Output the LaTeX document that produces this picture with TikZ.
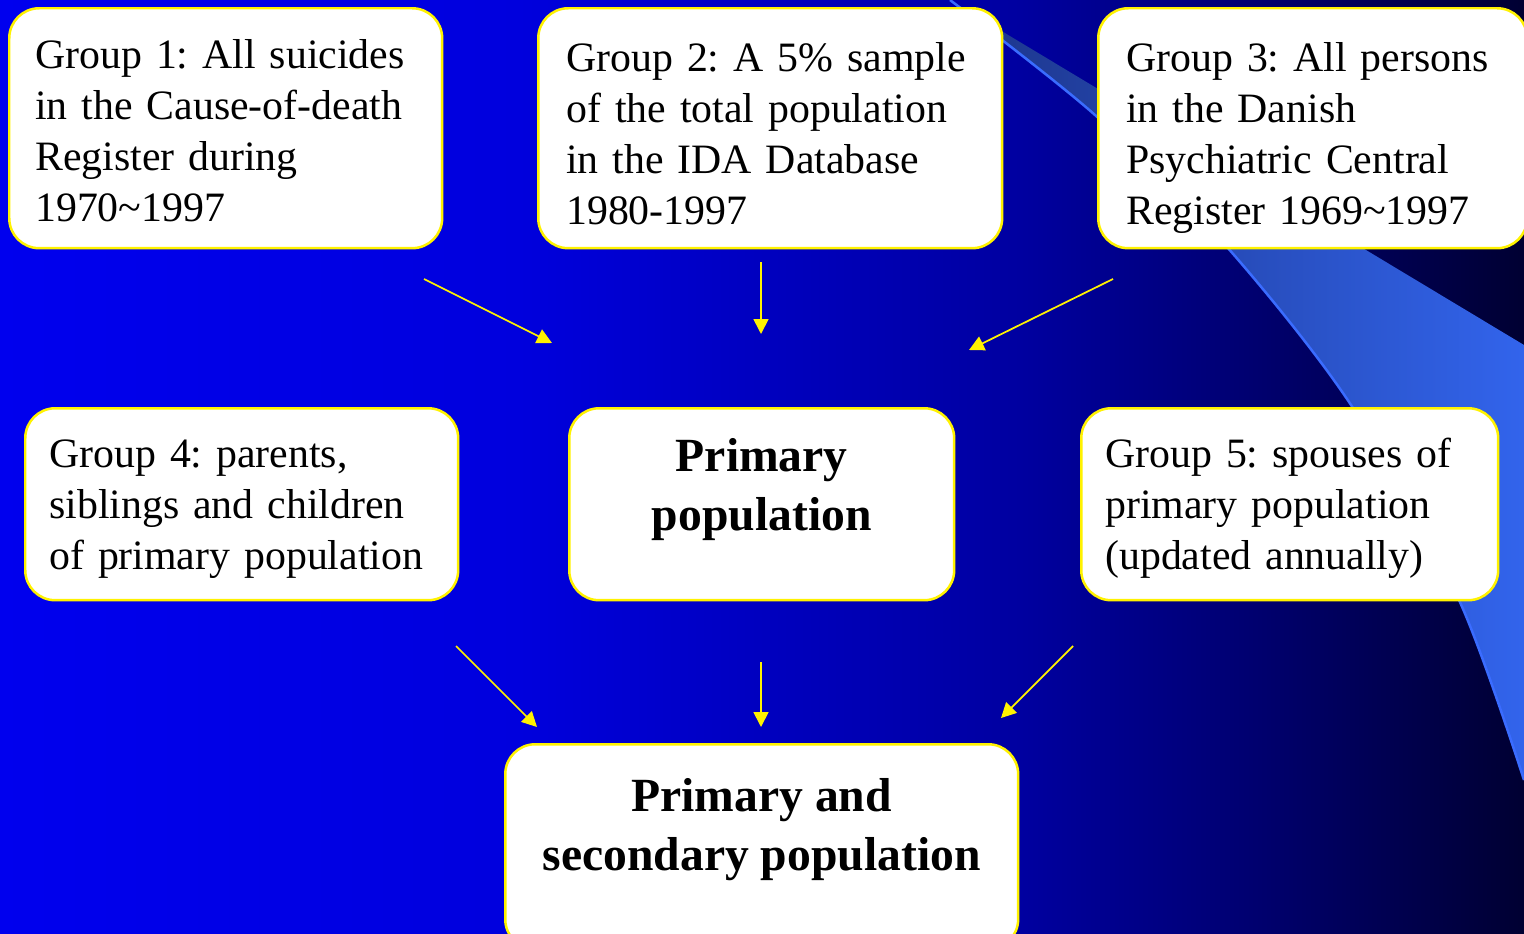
\documentclass[tikz,border=0pt]{standalone}
\usepackage{fontspec}
\setmainfont{Liberation Serif}
\usetikzlibrary{arrows.meta}

\definecolor{swleft}{RGB}{28,52,136}
\definecolor{swright}{RGB}{50,100,236}
\definecolor{swedge}{RGB}{58,108,255}

% slide background, bright blue on the left to near black on the right
\pgfdeclarehorizontalshading{slidebg}{100bp}{rgb(0bp)=(0,0,0.933); rgb(25bp)=(0,0,0.933);
	rgb(42bp)=(0,0,0.867); rgb(58.5bp)=(0,0,0.627); rgb(66bp)=(0,0,0.44);
	rgb(75bp)=(0,0,0.196); rgb(100bp)=(0,0,0.196)}

\begin{document}
\begin{tikzpicture}
	[x = 0.02cm, y = -0.02cm, >= {Triangle[length=0.3cm,width=0.3cm]},
	 group/.style = {draw=yellow, line width=0.05cm, fill=white, rounded corners=0.6cm,
		anchor=north west, align=left, inner ysep=0pt, minimum height=4.8cm,
		text height=1.26cm, text depth=3.54cm,
		font=\fontsize{23.8pt}{29pt}\selectfont,
		execute at begin node={\frenchspacing\hyphenpenalty=10000}},
	 result/.style = {draw=yellow, line width=0.05cm, fill=white, rounded corners=0.6cm,
		anchor=north west, align=center, text depth=0.88cm,
		font=\fontsize{27.1pt}{33.5pt}\selectfont\bfseries},
	 flow/.style = {->, draw=yellow, fill=yellow, line width=0.035cm}]

\useasboundingbox (0,0) rectangle (1524,933);
\clip (0,0) rectangle (1524,933);
\shade[shading=slidebg] (0,0) rectangle (1524,933);
\shade[left color=swleft, right color=swright]
	plot[smooth] coordinates {(950,0) (1095,115) (1227,247) (1351,405) (1459,600) (1524,780)}
	-- (1524,345) -- cycle;
\draw[swedge, line width=0.05cm]
	plot[smooth] coordinates {(950,0) (1095,115) (1227,247) (1351,405) (1459,600) (1524,780)};

% boxes
\node[group, text width=7.62cm, inner xsep=0.52cm, text height=1.2cm, text depth=3.6cm](g_1) at (8,7)
	{Group 1: All suicides\\in the Cause-of-death\\Register during\\1970\textasciitilde1997};
\node[group, text width=8.16cm, inner xsep=0.56cm](g_2) at (537,7)
	{Group 2: A 5\% sample\\of the total population\\in the IDA Database\\1980-1997};
\node[group, text width=7.46cm, inner xsep=0.56cm](g_3) at (1097,7)
	{Group 3: All persons\\in the Danish\\Psychiatric Central\\Register 1969\textasciitilde1997};
\node[group, text width=7.7cm, inner xsep=0.48cm, minimum height=3.84cm,
	text height=1.18cm, text depth=2.66cm](g_4) at (24,407)
	{Group 4: parents,\\siblings and children\\of primary population};
\node[result, minimum width=7.7cm, minimum height=3.84cm, text depth=0.8cm](prim) at (568,407)
	{Primary\\population};
\node[group, text width=7.38cm, inner xsep=0.48cm, minimum height=3.84cm,
	text height=1.18cm, text depth=2.66cm](g_5) at (1080,407)
	{Group 5: spouses of\\primary population\\(updated annually)};
\node[result, minimum width=10.26cm, minimum height=4.1cm](both) at (504,743)
	{Primary and\\secondary population};

% arrows
\coordinate (tail_1) at (424,279);  \coordinate (tip_1) at (552,343);
\coordinate (tail_2) at (761,262);  \coordinate (tip_2) at (761,334);
\coordinate (tail_3) at (1113,279); \coordinate (tip_3) at (969,350);
\coordinate (tail_4) at (456,646);  \coordinate (tip_4) at (537,727);
\coordinate (tail_5) at (761,662);  \coordinate (tip_5) at (761,727);
\coordinate (tail_6) at (1073,646); \coordinate (tip_6) at (1001,718);

\foreach \i in {1,...,6}
	\draw[flow] (tail_\i) -- (tip_\i);

\end{tikzpicture}
\end{document}
